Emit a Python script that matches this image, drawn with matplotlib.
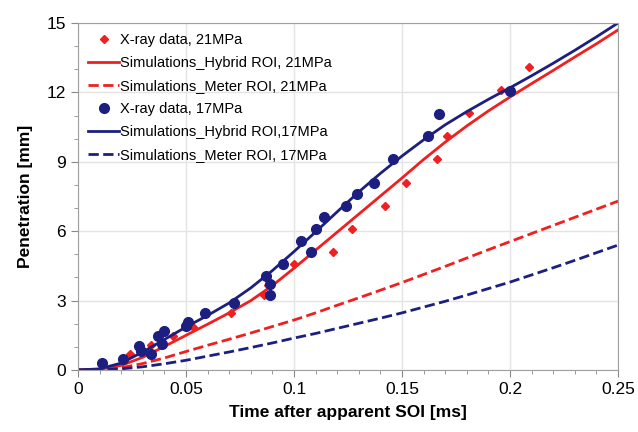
import matplotlib.pyplot as plt
from matplotlib.ticker import MultipleLocator, FormatStrFormatter

plt.rcParams['font.family'] = ['Liberation Sans', 'DejaVu Sans']

RED = '#f02020'
BLUE = '#1c1f80'

# X-ray data, 21 MPa (diamonds)
xray21_t = [0.024, 0.034, 0.044, 0.053, 0.071, 0.086, 0.088, 0.100, 0.118, 0.127,
            0.142, 0.152, 0.166, 0.171, 0.181, 0.196, 0.209]
xray21_p = [0.69, 1.08, 1.47, 1.86, 2.46, 3.24, 3.67, 4.6, 5.1, 6.1,
            7.1, 8.1, 9.1, 10.1, 11.1, 12.1, 13.1]

# X-ray data, 17 MPa (circles)
xray17_t = [0.011, 0.021, 0.028, 0.029, 0.034, 0.037, 0.040, 0.039, 0.050, 0.051,
            0.059, 0.072, 0.087, 0.089, 0.089, 0.095, 0.103, 0.108, 0.110, 0.114,
            0.124, 0.129, 0.137, 0.146, 0.162, 0.167, 0.200]
xray17_p = [0.3, 0.47, 1.04, 0.82, 0.69, 1.47, 1.69, 1.12, 1.9, 2.07,
            2.46, 2.9, 4.06, 3.7, 3.24, 4.6, 5.58, 5.1, 6.1, 6.6,
            7.1, 7.6, 8.1, 9.1, 10.1, 11.07, 12.07]

# simulation curves
sim_t = [0.00, 0.01, 0.02, 0.03, 0.04, 0.05, 0.06, 0.07, 0.08, 0.09, 0.10, 0.11, 0.12,
         0.13, 0.14, 0.15, 0.16, 0.17, 0.18, 0.19, 0.20, 0.21, 0.22, 0.23, 0.24, 0.25]
hybrid21 = [0.0, 0.03, 0.2, 0.55, 1.02, 1.5, 1.98, 2.47, 3.0, 3.65, 4.4, 5.18, 5.96,
            6.74, 7.52, 8.3, 9.1, 9.85, 10.55, 11.2, 11.8, 12.38, 12.95, 13.53, 14.1, 14.7]
meter21 = [0.0, 0.02, 0.1, 0.28, 0.52, 0.8, 1.07, 1.33, 1.6, 1.88, 2.16, 2.47, 2.8,
           3.12, 3.45, 3.78, 4.13, 4.48, 4.84, 5.2, 5.55, 5.9, 6.25, 6.6, 6.95, 7.3]
hybrid17 = [0.0, 0.05, 0.3, 0.78, 1.32, 1.86, 2.36, 2.9, 3.55, 4.3, 5.12, 5.97, 6.84,
            7.7, 8.5, 9.25, 9.95, 10.6, 11.17, 11.7, 12.2, 12.72, 13.26, 13.82, 14.4, 15.0]
meter17 = [0.0, 0.01, 0.05, 0.14, 0.27, 0.42, 0.6, 0.78, 0.97, 1.17, 1.38, 1.58, 1.8,
           2.02, 2.24, 2.47, 2.72, 2.97, 3.24, 3.52, 3.8, 4.11, 4.42, 4.74, 5.07, 5.4]

fig = plt.figure(figsize=(6.38, 4.32), dpi=100)
ax = fig.add_axes([0.1223, 0.1435, 0.8464, 0.8033])

ax.plot(xray21_t, xray21_p, 'D', color=RED, markersize=4.5, linestyle='none',
        label='X-ray data, 21MPa')
ax.plot(sim_t, hybrid21, '-', color=RED, lw=2, label='Simulations_Hybrid ROI, 21MPa')
ax.plot(sim_t, meter21, '--', color=RED, lw=2, label='Simulations_Meter ROI, 21MPa')
ax.plot(xray17_t, xray17_p, 'o', color=BLUE, markersize=7, linestyle='none',
        label='X-ray data, 17MPa')
ax.plot(sim_t, hybrid17, '-', color=BLUE, lw=2, label='Simulations_Hybrid ROI,17MPa')
ax.plot(sim_t, meter17, '--', color=BLUE, lw=2, label='Simulations_Meter ROI, 17MPa')

ax.set_xlim(0, 0.25)
ax.set_ylim(0, 15)
ax.xaxis.set_major_locator(MultipleLocator(0.05))
ax.xaxis.set_minor_locator(MultipleLocator(0.01))
ax.xaxis.set_major_formatter(FormatStrFormatter('%g'))
ax.yaxis.set_major_locator(MultipleLocator(3))
ax.yaxis.set_minor_locator(MultipleLocator(1))
ax.tick_params(which='major', length=5, color='#888888', labelsize=12.5)
ax.tick_params(which='minor', length=3, color='#888888')
ax.grid(True, which='major', color='#e4e4e4', lw=1)
ax.set_axisbelow(True)
for s in ax.spines.values():
    s.set_color('#a0a0a0')

ax.set_xlabel('Time after apparent SOI [ms]', fontsize=12.5, fontweight='bold', labelpad=6)
ax.set_ylabel('Penetration [mm]', fontsize=12.5, fontweight='bold', labelpad=10)

leg = ax.legend(loc='upper left', frameon=False, fontsize=10.5, handlelength=2.1,
                handletextpad=0.05, labelspacing=0.62, borderaxespad=0.3,
                bbox_to_anchor=(0.0, 1.0))

fig.savefig('out.png', dpi=100)
